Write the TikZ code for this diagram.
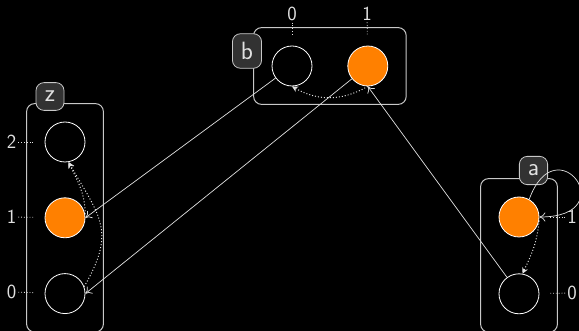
\documentclass[tikz,border=0pt]{standalone}
\usepackage{xcolor}
\usepackage{tikz}
\usetikzlibrary{arrows.meta, positioning, fit, calc}
\definecolor{cellorange}{RGB}{255,128,0}
\definecolor{tagfill}{RGB}{50,50,50}
\definecolor{framegrey}{RGB}{200,200,200}
\definecolor{inkgrey}{RGB}{225,225,225}

\begin{document}
\begin{tikzpicture}[x=1pt, y=1pt,
    cell/.style={circle, draw=white, line width=0.8pt, minimum size=40pt, inner sep=0pt},
    full/.style={cell, fill=cellorange},
    frame/.style={draw=framegrey, line width=1pt, rounded corners=8pt, inner sep=18pt},
    tag/.style={draw=framegrey, fill=tagfill, text=inkgrey, line width=0.8pt,
                rounded corners=8pt, inner sep=8.5pt, minimum width=28pt,
                font=\sffamily\fontsize{25}{30}\selectfont},
    idx/.style={text=inkgrey, inner sep=2pt, font=\sffamily\fontsize{20}{24}\selectfont},
    tick/.style={draw=inkgrey, dotted, line width=0.8pt, shorten >=10pt},
    ptr/.style={draw=inkgrey, line width=0.7pt, -{To[length=6pt, width=9pt]}},
    link/.style={draw=inkgrey, dotted, line width=1pt, -{Stealth[length=6pt, width=6pt]}},
  ]
  \fill[black, use as bounding box] (0,0) rectangle (579,-331);

  % cells
  \node[cell] (b0) at (292,-66) {};
  \node[full, right=35pt of b0] (b1) {};
  \node[cell] (z2) at (65,-142) {};
  \node[full, below=35pt of z2] (z1) {};
  \node[cell, below=35pt of z1] (z0) {};
  \node[full] (a1) at (519,-217) {};
  \node[cell, below=36pt of a1] (a0) {};

  % arrays
  \node[frame, fit=(b0)(b1)] (bframe) {};
  \node[frame, fit=(z2)(z0)] (zframe) {};
  \node[frame, fit=(a1)(a0)] (aframe) {};
  \node[tag] (btag) at (247,-51) {b};
  \node[tag] (ztag) at (50,-96.5) {z};
  \node[tag] (atag) at (533.5,-170.5) {a};

  % indices
  \node[idx] (bi0) at (292,-13.5) {0};
  \node[idx] (bi1) at (367,-13.5) {1};
  \node[idx] (zi2) at (11.5,-142) {2};
  \node[idx] (zi1) at (11.5,-217) {1};
  \node[idx] (zi0) at (11.5,-292) {0};
  \node[idx] (ai1) at (572,-217) {1};
  \node[idx] (ai0) at (572,-293) {0};
  \foreach \i/\c in {bi0/b0, bi1/b1, zi2/z2, zi1/z1, zi0/z0, ai1/a1, ai0/a0}
    \draw[tick] (\i) -- (\c);

  % pointers
  \draw[ptr] (b0) -- (z1.east);
  \draw[ptr] (b1) -- (z0.east);
  \draw[ptr] (a0) -- (b1.south);
  \draw[ptr] (a1.60) .. controls +(70:80) and +(0:85) .. (a1.east);

  % links
  \draw[link] (b1.south) to[bend left=30] (b0.south);
  \draw[link] (z1.10) to[out=90, in=-65] (z2.-80);
  \draw[link] (z0.20) to[out=60, in=-60, looseness=1.3] (z2.-80);
  \draw[link] (a1.-10) to[out=-95, in=65] (a0.80);
\end{tikzpicture}
\end{document}
